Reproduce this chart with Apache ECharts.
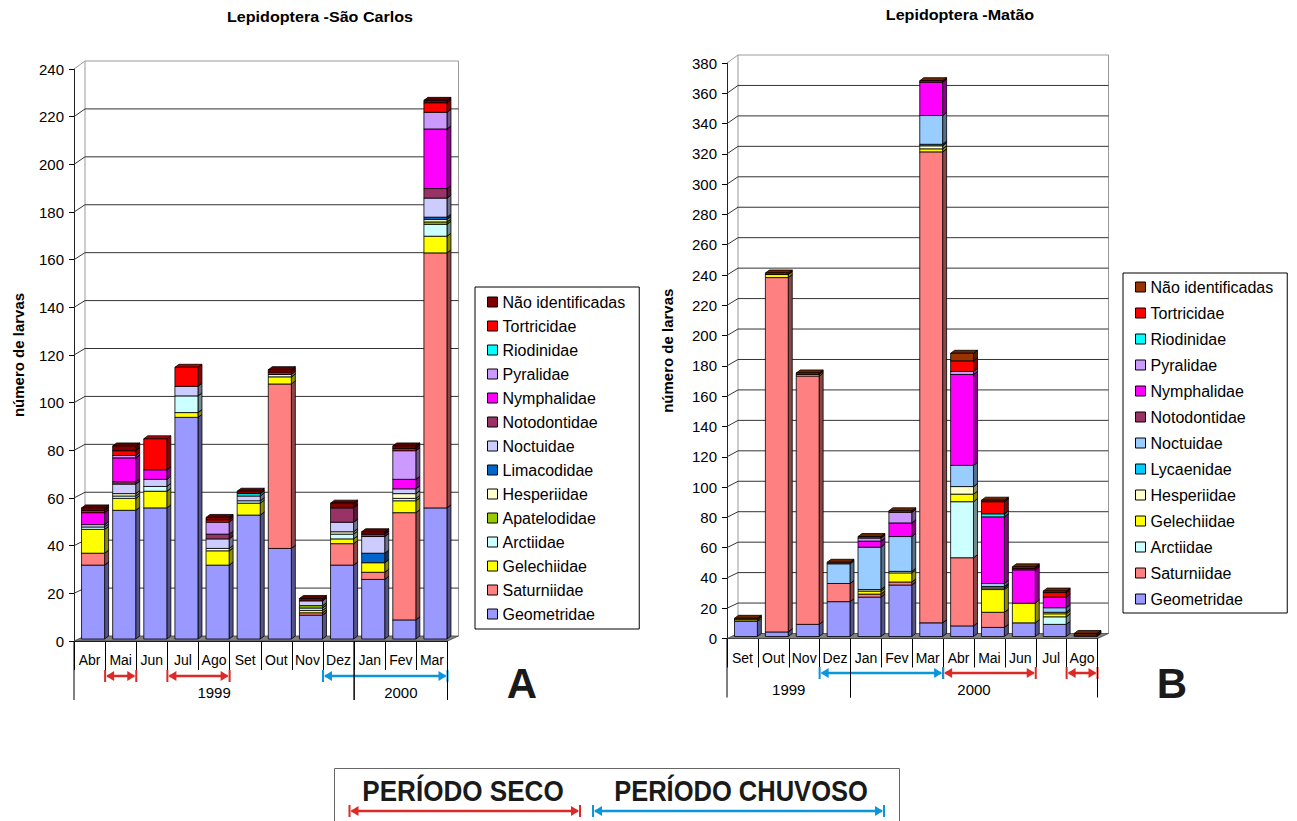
<!DOCTYPE html>
<html>
<head>
<meta charset="utf-8">
<title>Lepidoptera - São Carlos e Matão</title>
<script src="https://cdn.jsdelivr.net/npm/echarts@6.0.0/dist/echarts.min.js"></script>
<style>
  html, body { margin: 0; padding: 0; background: #ffffff; }
  #chart { width: 1297px; height: 821px; }
</style>
</head>
<body>
<div id="chart"></div>
<script>
// ---------- São Carlos (A) ----------
const monthsSC = ['Abr', 'Mai', 'Jun', 'Jul', 'Ago', 'Set', 'Out', 'Nov', 'Dez', 'Jan', 'Fev', 'Mar'];
const yTicksSC = [0, 20, 40, 60, 80, 100, 120, 140, 160, 180, 200, 220, 240];
const yearsSC = ['1999', '2000'];
const yearSpansSC = [[0, 8], [9, 11]];
const dryPeriodsSC = [[1, 1], [3, 4]];
const rainyPeriodsSC = [[8, 11]];

const sc_Geometridae   = [31, 54, 55, 93, 31, 52, 38, 10, 31, 25, 8, 55];
const sc_Saturniidae   = [5, 0, 0, 0, 0, 0, 69, 1, 9, 3, 45, 107];
const sc_Gelechiidae   = [10, 5, 7, 2, 6, 5, 3, 1, 2, 4, 5, 7];
const sc_Arctiidae     = [1, 1, 2, 7, 0, 1, 1, 1, 2, 0, 1, 5];
const sc_Apatelodidae  = [0, 0, 0, 0, 0, 0, 0, 1, 0, 0, 0, 1];
const sc_Hesperiidae   = [0, 1, 0, 0, 1, 0, 0, 0, 1, 0, 2, 1];
const sc_Limacodidae   = [0, 0, 0, 0, 0, 0, 0, 0, 0, 4, 0, 1];
const sc_Noctuidae     = [1, 4, 3, 4, 4, 2, 0, 2, 4, 7, 2, 8];
const sc_Notodontidae  = [0, 1, 0, 0, 2, 0, 0, 0, 6, 1, 0, 4];
const sc_Nymphalidae   = [5, 10, 4, 0, 0, 0, 0, 0, 0, 0, 4, 25];
const sc_Pyralidae     = [0, 1, 0, 0, 5, 0, 0, 0, 0, 0, 12, 7];
const sc_Riodinidae    = [0, 0, 0, 0, 0, 1, 0, 0, 0, 0, 0, 0];
const sc_Tortricidae   = [1, 2, 13, 8, 1, 0, 1, 0, 0, 0, 1, 4];
const sc_NaoIdent      = [1, 2, 0, 0, 1, 1, 1, 1, 2, 1, 1, 1];

// ---------- Matão (B) ----------
const monthsMT = ['Set', 'Out', 'Nov', 'Dez', 'Jan', 'Fev', 'Mar', 'Abr', 'Mai', 'Jun', 'Jul', 'Ago'];
const yTicksMT = [0, 20, 40, 60, 80, 100, 120, 140, 160, 180, 200, 220, 240, 260, 280, 300, 320, 340, 360, 380];
const yearsMT = ['1999', '2000'];
const yearSpansMT = [[0, 3], [4, 11]];
const dryPeriodsMT = [[7, 9], [11, 11]];
const rainyPeriodsMT = [[3, 6]];

const mt_Geometridae   = [10, 3, 8, 23, 26, 34, 9, 7, 6, 9, 8, 0];
const mt_Saturniidae   = [0, 234, 164, 12, 2, 2, 311, 45, 10, 0, 0, 0];
const mt_Arctiidae     = [0, 0, 0, 0, 0, 0, 0, 37, 0, 0, 5, 0];
const mt_Gelechiidae   = [1, 2, 1, 0, 2, 6, 2, 5, 15, 13, 2, 0];
const mt_Hesperiidae   = [0, 0, 0, 0, 1, 1, 2, 5, 1, 0, 1, 0];
const mt_Lycaenidae    = [0, 0, 0, 0, 0, 0, 1, 0, 1, 0, 0, 0];
const mt_Noctuidae     = [0, 0, 0, 13, 28, 23, 19, 14, 2, 0, 3, 0];
const mt_Notodontidae  = [0, 0, 0, 0, 0, 0, 0, 0, 0, 0, 0, 1];
const mt_Nymphalidae   = [0, 0, 0, 0, 4, 9, 22, 60, 44, 22, 7, 0];
const mt_Pyralidae     = [0, 0, 0, 0, 2, 7, 0, 2, 0, 0, 0, 0];
const mt_Riodinidae    = [0, 0, 0, 0, 0, 0, 0, 0, 2, 0, 0, 0];
const mt_Tortricidae   = [0, 0, 0, 0, 0, 0, 0, 7, 8, 1, 3, 0];
const mt_NaoIdent      = [1, 1, 1, 1, 1, 1, 1, 5, 1, 1, 1, 1];

// Stacking order, bottom to top
const stackSC = [
  ['Geometridae', sc_Geometridae], ['Saturniidae', sc_Saturniidae], ['Gelechiidae', sc_Gelechiidae],
  ['Arctiidae', sc_Arctiidae], ['Apatelodidae', sc_Apatelodidae], ['Hesperiidae', sc_Hesperiidae],
  ['Limacodidae', sc_Limacodidae], ['Noctuidae', sc_Noctuidae], ['Notodontidae', sc_Notodontidae],
  ['Nymphalidae', sc_Nymphalidae], ['Pyralidae', sc_Pyralidae], ['Riodinidae', sc_Riodinidae],
  ['Tortricidae', sc_Tortricidae], ['Não identificadas', sc_NaoIdent]
];
const stackMT = [
  ['Geometridae', mt_Geometridae], ['Saturniidae', mt_Saturniidae], ['Arctiidae', mt_Arctiidae],
  ['Gelechiidae', mt_Gelechiidae], ['Hesperiidae', mt_Hesperiidae], ['Lycaenidae', mt_Lycaenidae],
  ['Noctuidae', mt_Noctuidae], ['Notodontidae', mt_Notodontidae], ['Nymphalidae', mt_Nymphalidae],
  ['Pyralidae', mt_Pyralidae], ['Riodinidae', mt_Riodinidae], ['Tortricidae', mt_Tortricidae],
  ['Não identificadas', mt_NaoIdent]
];

// ---------- styles ----------
const FONT = "'Liberation Sans', Arial, Helvetica, sans-serif";
const RED = '#DC2A26';
const BLUE = '#0A96DC';
const baseColors = {
  'Geometridae': '#9999FF', 'Saturniidae': '#FF8080', 'Gelechiidae': '#FFFF00', 'Arctiidae': '#CCFFFF',
  'Apatelodidae': '#99CC00', 'Hesperiidae': '#FFFFCC', 'Limacodidae': '#0066CC', 'Lycaenidae': '#00CCFF',
  'Noctuidae': '#CCCCFF', 'Notodontidae': '#993366', 'Nymphalidae': '#FF00FF', 'Pyralidae': '#CC99FF',
  'Riodinidae': '#00FFFF', 'Tortricidae': '#FF0000', 'Não identificadas': '#800000'
};
const colorsSC = Object.assign({}, baseColors);
const colorsMT = Object.assign({}, baseColors, { 'Noctuidae': '#99CCFF', 'Não identificadas': '#993300' });

// 3D column geometry (pixels)
const BAR_FRAC = 0.74;   // column width / category band
const FRONT_DX = 3.5, FRONT_DY = -2;  // column front face offset from the axis plane
const DEPTH_DX = 4, DEPTH_DY = -3;    // column depth
const WALL_DX = 11;                   // back wall offset

function shade(hex, f) {
  const n = parseInt(hex.slice(1), 16);
  const r = Math.round(((n >> 16) & 255) * f);
  const g = Math.round(((n >> 8) & 255) * f);
  const b = Math.round((n & 255) * f);
  return 'rgb(' + r + ',' + g + ',' + b + ')';
}

function wallDy(v, max) { return -5 - 3 * v / max; }

function columnSeries(name, color, values, below, gi) {
  const data = [];
  values.forEach((v, i) => {
    if (v > 0) data.push([i, below[i], below[i] + v]);
  });
  const side = shade(color, 0.55), top = shade(color, 0.72);
  return {
    type: 'custom', name, coordinateSystem: 'cartesian2d',
    xAxisIndex: gi, yAxisIndex: gi, z: 3,
    itemStyle: { color },
    encode: { x: 0, y: [1, 2] },
    data,
    renderItem: function (params, api) {
      const i = api.value(0), lo = api.value(1), hi = api.value(2);
      const pLo = api.coord([i, lo]), pHi = api.coord([i, hi]);
      const band = api.size([1, 0])[0];
      const w = band * BAR_FRAC;
      const x0 = pLo[0] - w / 2 + FRONT_DX;
      const yB = pLo[1] + FRONT_DY, yT = pHi[1] + FRONT_DY;
      const stroke = { stroke: '#000', lineWidth: 0.8 };
      return {
        type: 'group',
        children: [
          { type: 'polygon', shape: { points: [[x0 + w, yT], [x0 + w + DEPTH_DX, yT + DEPTH_DY], [x0 + w + DEPTH_DX, yB + DEPTH_DY], [x0 + w, yB]] },
            style: Object.assign({ fill: side }, stroke) },
          { type: 'polygon', shape: { points: [[x0, yT], [x0 + DEPTH_DX, yT + DEPTH_DY], [x0 + w + DEPTH_DX, yT + DEPTH_DY], [x0 + w, yT]] },
            style: Object.assign({ fill: top }, stroke) },
          { type: 'rect', shape: { x: x0, y: yT, width: w, height: yB - yT },
            style: Object.assign({ fill: color }, stroke) }
        ]
      };
    }
  };
}

function stackedSeries(stack, colors, gi) {
  const below = stack[0][1].map(() => 0);
  const out = [];
  stack.forEach(([name, values]) => {
    out.push(columnSeries(name, colors[name], values, below.slice(), gi));
    values.forEach((v, i) => { below[i] += v; });
  });
  return out;
}

// back wall, side wall, floor and gridlines
function wallSeries(ticks, n, gi) {
  const max = ticks[ticks.length - 1];
  return {
    type: 'custom', coordinateSystem: 'cartesian2d', xAxisIndex: gi, yAxisIndex: gi, z: 1,
    silent: true, encode: { x: 0, y: 1 },
    data: ticks.map(v => [0, v]),
    renderItem: function (params, api) {
      const v = api.value(1);
      const band = api.size([1, 0])[0];
      const pL = api.coord([0, v]), pR = api.coord([n - 1, v]);
      const xl = pL[0] - band / 2, xr = pR[0] + band / 2, y = pL[1];
      const dy = wallDy(v, max);
      const kids = [];
      if (v === 0) {
        const yTop = api.coord([0, max])[1] + wallDy(max, max);
        kids.push({ type: 'line', shape: { x1: xl + WALL_DX, y1: y + dy, x2: xl + WALL_DX, y2: yTop }, style: { stroke: '#999', lineWidth: 1 } });
        kids.push({ type: 'line', shape: { x1: xr + WALL_DX, y1: y + dy, x2: xr + WALL_DX, y2: yTop }, style: { stroke: '#999', lineWidth: 1 } });
        kids.push({ type: 'polygon', shape: { points: [[xl, y], [xr, y], [xr + WALL_DX, y + dy], [xl + WALL_DX, y + dy]] },
          style: { fill: '#808080', stroke: '#444', lineWidth: 0.8 } });
      } else {
        kids.push({ type: 'polyline', shape: { points: [[xl, y], [xl + WALL_DX, y + dy], [xr + WALL_DX, y + dy]] },
          style: { stroke: v === max ? '#9a9a9a' : '#333', lineWidth: 1, fill: null } });
      }
      return { type: 'group', children: kids };
    }
  };
}

// double-headed arrows marking dry (red) and rainy (blue) months
function arrow(x1, x2, y, color) {
  const ah = 8, aw = 5;
  return [
    { type: 'line', shape: { x1: x1 + 2, y1: y, x2: x2 - 2, y2: y }, style: { stroke: color, lineWidth: 2.5 } },
    { type: 'line', shape: { x1: x1, y1: y - 6, x2: x1, y2: y + 6 }, style: { stroke: color, lineWidth: 2 } },
    { type: 'line', shape: { x1: x2, y1: y - 6, x2: x2, y2: y + 6 }, style: { stroke: color, lineWidth: 2 } },
    { type: 'polygon', shape: { points: [[x1 + 1, y], [x1 + 1 + ah, y - aw], [x1 + 1 + ah, y + aw]] }, style: { fill: color } },
    { type: 'polygon', shape: { points: [[x2 - 1, y], [x2 - 1 - ah, y - aw], [x2 - 1 - ah, y + aw]] }, style: { fill: color } }
  ];
}

function periodSeries(dry, rainy, gi, offset) {
  const data = dry.map(p => [p[0], p[1], 0]).concat(rainy.map(p => [p[0], p[1], 1]));
  return {
    type: 'custom', coordinateSystem: 'cartesian2d', xAxisIndex: gi, yAxisIndex: gi, z: 4,
    silent: true, clip: false, encode: { x: [0, 1], y: 2 }, data,
    renderItem: function (params, api) {
      const s = api.value(0), e = api.value(1), k = api.value(2);
      const band = api.size([1, 0])[0];
      const x1 = api.coord([s, 0])[0] - band / 2, x2 = api.coord([e, 0])[0] + band / 2;
      const y = api.coord([s, 0])[1] + offset;
      return { type: 'group', children: arrow(x1, x2, y, k ? BLUE : RED) };
    }
  };
}

function yearSeries(years, spans, gi) {
  return {
    type: 'custom', coordinateSystem: 'cartesian2d', xAxisIndex: gi, yAxisIndex: gi, z: 4,
    silent: true, clip: false, encode: { x: [0, 1] }, data: spans,
    renderItem: function (params, api) {
      const s = api.value(0), e = api.value(1);
      const band = api.size([1, 0])[0];
      const x1 = api.coord([s, 0])[0] - band / 2, x2 = api.coord([e, 0])[0] + band / 2;
      const y = api.coord([s, 0])[1];
      return {
        type: 'group', children: [
          { type: 'line', shape: { x1: x1, y1: y, x2: x1, y2: y + 59 }, style: { stroke: '#000', lineWidth: 1 } },
          { type: 'line', shape: { x1: x2, y1: y, x2: x2, y2: y + 59 }, style: { stroke: '#000', lineWidth: 1 } },
          { type: 'text', style: { text: years[params.dataIndex], x: (x1 + x2) / 2, y: y + 51, align: 'center', verticalAlign: 'middle',
            fontSize: 15, fontFamily: FONT, fill: '#000' } }
        ]
      };
    }
  };
}

function legendData(stack, colors) {
  return stack.map(s => s[0]).reverse().map(name => ({ name, itemStyle: { color: colors[name] } }));
}

const axisTextStyle = { color: '#000', fontFamily: FONT };

function xAxisFor(months, gi) {
  return {
    type: 'category', gridIndex: gi, data: months,
    axisLine: { show: true, lineStyle: { color: '#000', width: 1 } },
    axisTick: { show: true, length: 29, interval: 0, lineStyle: { color: '#000' } },
    axisLabel: Object.assign({ interval: 0, margin: 12, fontSize: 14 }, axisTextStyle),
    splitLine: { show: false }
  };
}

function yAxisFor(ticks, gi, nameGap) {
  return {
    type: 'value', gridIndex: gi, min: ticks[0], max: ticks[ticks.length - 1], interval: ticks[1] - ticks[0],
    axisLine: { show: true, lineStyle: { color: '#222', width: 1 } },
    axisTick: { show: true, length: 5, lineStyle: { color: '#000' } },
    axisLabel: Object.assign({ margin: 10, fontSize: 15 }, axisTextStyle),
    splitLine: { show: false },
    name: 'número de larvas', nameLocation: 'middle', nameGap, nameRotate: 90,
    nameTextStyle: { fontWeight: 'bold', fontSize: 15, color: '#000', fontFamily: FONT }
  };
}

const legendCommon = {
  orient: 'vertical', icon: 'rect', itemWidth: 10, itemHeight: 10,
  borderColor: '#000', borderWidth: 1, backgroundColor: '#fff',
  itemStyle: { borderColor: '#000', borderWidth: 1 },
  textStyle: { fontSize: 16, color: '#000', fontFamily: FONT }
};

const chart = echarts.init(document.getElementById('chart'), null, { renderer: 'svg' });

const option = {
  animation: false,
  backgroundColor: '#ffffff',
  grid: [
    { left: 74, right: 849.5, top: 69, bottom: 180 },
    { left: 727, right: 199.5, top: 63, bottom: 182.5 }
  ],
  xAxis: [xAxisFor(monthsSC, 0), xAxisFor(monthsMT, 1)],
  yAxis: [yAxisFor(yTicksSC, 0, 48), yAxisFor(yTicksMT, 1, 52)],
  legend: [
    Object.assign({ left: 475, top: 287, itemGap: 8, padding: [7, 14, 7, 12], data: legendData(stackSC, colorsSC) }, legendCommon),
    Object.assign({ left: 1123, top: 273, itemGap: 10, padding: [6, 14, 6, 12], data: legendData(stackMT, colorsMT) }, legendCommon)
  ],
  graphic: [
    { type: 'text', x: 320, y: 17, scaleX: 1.15, style: { text: 'Lepidoptera -São Carlos', align: 'center', verticalAlign: 'middle',
      fontSize: 14, fontWeight: 'bold', fontFamily: FONT, fill: '#000' } },
    { type: 'text', x: 960, y: 15, scaleX: 1.15, style: { text: 'Lepidoptera -Matão', align: 'center', verticalAlign: 'middle',
      fontSize: 14, fontWeight: 'bold', fontFamily: FONT, fill: '#000' } },
    { type: 'text', x: 522, y: 683, style: { text: 'A', align: 'center', verticalAlign: 'middle',
      fontSize: 42, fontWeight: 'bold', fontFamily: FONT, fill: '#1a1a1a' } },
    { type: 'text', x: 1172, y: 683, style: { text: 'B', align: 'center', verticalAlign: 'middle',
      fontSize: 42, fontWeight: 'bold', fontFamily: FONT, fill: '#1a1a1a' } },
    { type: 'rect', shape: { x: 334.5, y: 768.5, width: 565, height: 70 }, style: { fill: '#fff', stroke: '#666', lineWidth: 1 } },
    { type: 'text', x: 463, y: 791, scaleX: 0.9, style: { text: 'PERÍODO SECO', align: 'center', verticalAlign: 'middle',
      fontSize: 29, fontWeight: 'bold', fontFamily: FONT, fill: '#1a1a1a' } },
    { type: 'text', x: 741, y: 791, scaleX: 0.88, style: { text: 'PERÍODO CHUVOSO', align: 'center', verticalAlign: 'middle',
      fontSize: 29, fontWeight: 'bold', fontFamily: FONT, fill: '#1a1a1a' } },
    { type: 'group', children: arrow(349.5, 580, 811, RED) },
    { type: 'group', children: arrow(593, 884, 811, BLUE) }
  ],
  series: [
    wallSeries(yTicksSC, monthsSC.length, 0),
    wallSeries(yTicksMT, monthsMT.length, 1)
  ].concat(
    stackedSeries(stackSC, colorsSC, 0),
    stackedSeries(stackMT, colorsMT, 1),
    [
      periodSeries(dryPeriodsSC, rainyPeriodsSC, 0, 35),
      periodSeries(dryPeriodsMT, rainyPeriodsMT, 1, 34.5),
      yearSeries(yearsSC, yearSpansSC, 0),
      yearSeries(yearsMT, yearSpansMT, 1)
    ]
  )
};

chart.setOption(option);
</script>
</body>
</html>
